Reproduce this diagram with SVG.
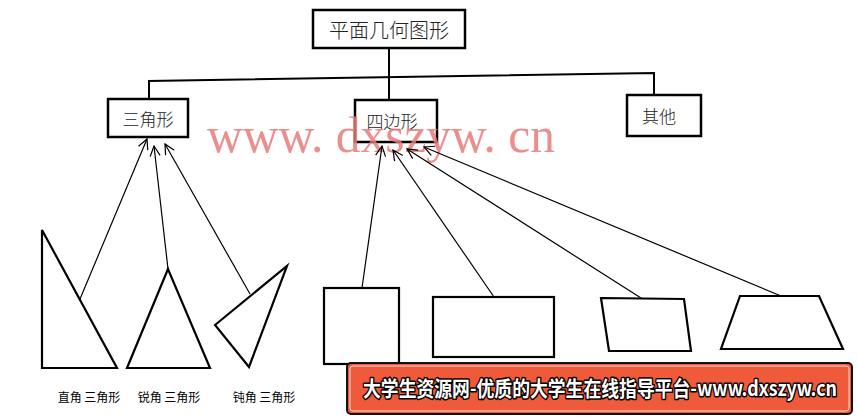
<svg xmlns="http://www.w3.org/2000/svg" width="857" height="419" viewBox="0 0 857 419">
<defs>
<style>
.box{fill:#fff;stroke:#000;stroke-width:2.5}
.lbl{font-family:"Noto Sans CJK SC","Noto Sans CJK JP",sans-serif;font-weight:300;fill:#222;text-anchor:middle;dominant-baseline:central}
.tree{fill:none;stroke:#000;stroke-width:2}
.con{fill:none;stroke:#000;stroke-width:1.2;marker-end:url(#ah)}
.shape{fill:#fff;stroke:#000;stroke-width:2.2}
.cap{font-family:"Noto Sans CJK SC",sans-serif;font-size:12px;fill:#000;text-anchor:middle}
</style>
<marker id="ah" viewBox="0 0 12 12" refX="11" refY="6" markerWidth="12" markerHeight="12" markerUnits="userSpaceOnUse" orient="auto">
<path d="M1,1 L11,6 L1,11" fill="none" stroke="#000" stroke-width="1.2"/>
</marker>
</defs>
<rect width="857" height="419" fill="#fff"/>

<g id="tree-lines">
<line class="tree" x1="389" y1="49" x2="389" y2="100"/>
<polyline class="tree" points="149,99 149,81 654,73 654,95"/>
</g>

<g id="node-root">
<rect class="box" x="313" y="10" width="152" height="38"/>
<text class="lbl" x="389" y="29" font-size="20">平面几何图形</text>
</g>
<g id="node-triangle">
<rect class="box" x="108" y="99" width="80" height="38"/>
<text class="lbl" x="148" y="118" font-size="17">三角形</text>
</g>
<g id="node-quad">
<rect class="box" x="355" y="100" width="82" height="42"/>
<text class="lbl" x="392" y="120" font-size="17">四边形</text>
</g>
<g id="node-other">
<rect class="box" x="627" y="95" width="74" height="41"/>
<text class="lbl" x="659" y="115" font-size="17">其他</text>
</g>

<text x="207" y="152" font-family="Liberation Serif, serif" font-size="50" fill="#e87a7a" fill-opacity="0.85" textLength="348" lengthAdjust="spacingAndGlyphs">www. dxszyw. cn</text>

<g id="shapes">
<polygon class="shape" points="42,230 42,368 117,368"/>
<polygon class="shape" points="168,269 127,368 210,368"/>
<polygon class="shape" points="215,325 287,266 249,367"/>
<rect class="shape" x="324" y="288" width="75" height="76"/>
<rect class="shape" x="433" y="297" width="121" height="60"/>
<polygon class="shape" points="601,298 684,299 691,351 609,351"/>
<polygon class="shape" points="740,296 819,296 843,349 721,349"/>
</g>

<g id="connectors">
<line class="con" x1="80" y1="299" x2="147" y2="139"/>
<line class="con" x1="168" y1="269" x2="154" y2="146"/>
<line class="con" x1="250" y1="294" x2="165" y2="144"/>
<line class="con" x1="362" y1="288" x2="382" y2="146"/>
<line class="con" x1="494" y1="297" x2="393" y2="150"/>
<line class="con" x1="641" y1="298" x2="407" y2="149"/>
<line class="con" x1="781" y1="296" x2="424" y2="147"/>
</g>

<g id="captions">
<text class="cap" x="89" y="402">直角 三角形</text>
<text class="cap" x="169" y="402">锐角 三角形</text>
<text class="cap" x="264" y="402">钝角 三角形</text>
</g>

<g id="banner">
<rect x="347" y="363" width="505" height="51" rx="4" fill="#ee5a3a" stroke="#111" stroke-width="2"/>
<rect x="350" y="366" width="499" height="45" rx="3" fill="none" stroke="#fff" stroke-width="0.8"/>
<text x="363" y="396" font-family="Noto Sans CJK SC, sans-serif" font-size="21" font-weight="bold" fill="#fff" stroke="#000" stroke-width="3" paint-order="stroke" stroke-linejoin="round" textLength="474" lengthAdjust="spacingAndGlyphs">大学生资源网-优质的大学生在线指导平台-www.dxszyw.cn</text>
</g>
</svg>
